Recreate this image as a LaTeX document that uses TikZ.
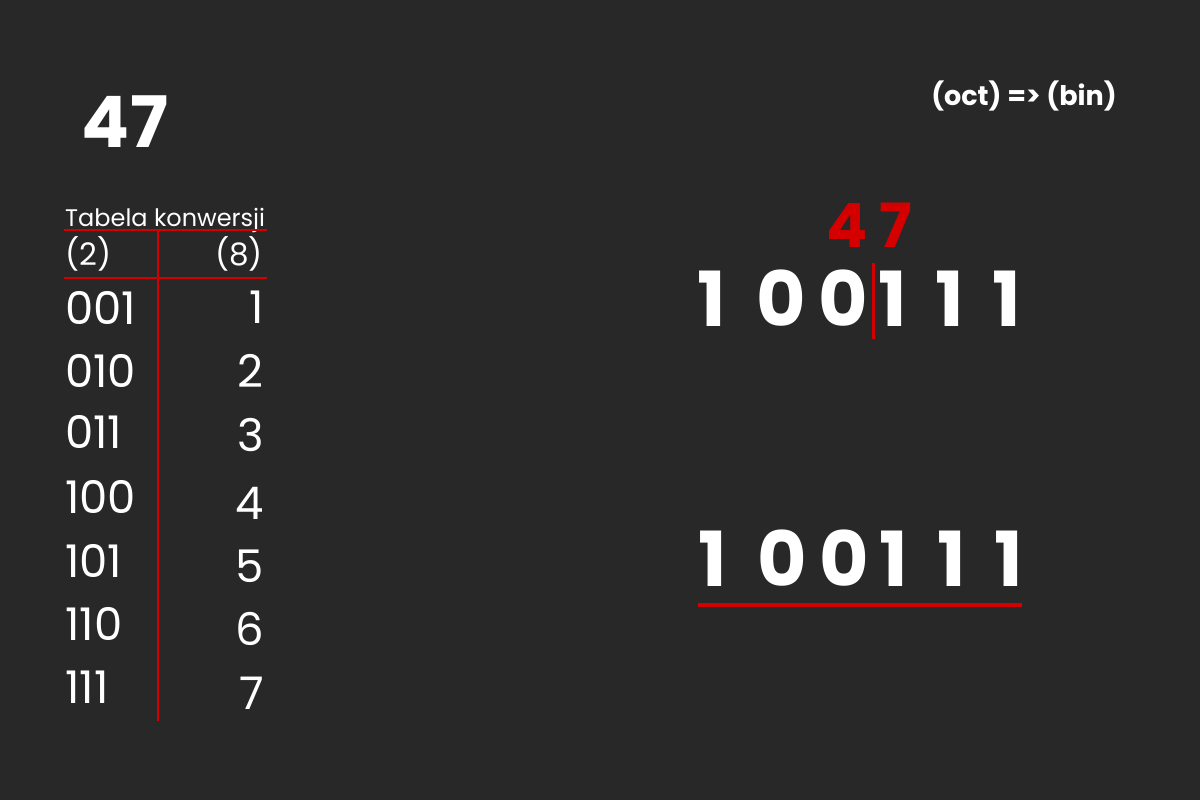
\documentclass[tikz,border=0pt]{standalone}
\usepackage{fontspec}
\setmainfont{Poppins}
\definecolor{bg}{RGB}{40,40,40}
\definecolor{accent}{RGB}{212,0,0}
\tikzset{
  bigb/.style={text=white,inner sep=0pt,font=\fontsize{76}{76}\bfseries\selectfont},
  redb/.style={text=accent,inner sep=0pt,font=\fontsize{61}{61}\bfseries\selectfont},
  tab/.style={text=white,inner sep=0pt,font=\fontsize{45}{45}\selectfont},
  hdr/.style={text=white,inner sep=0pt,font=\fontsize{31}{31}\selectfont},
  rline/.style={draw=accent,line width=2.5pt},
}
\begin{document}
\begin{tikzpicture}[x=1pt,y=-1pt]
\fill[bg] (0,0) rectangle (1200,800);
\useasboundingbox (0,0) rectangle (1200,800);
% title
\node[text=white,inner sep=0pt,anchor=base,font=\fontsize{71}{71}\bfseries\selectfont] (title) at (125,147) {47};
\node[text=white,inner sep=0pt,anchor=base,font=\fontsize{27}{27}\bfseries\selectfont] (conv) at (1024,106) {(oct) => (bin)};
% table
\node[text=white,inner sep=0pt,anchor=base west,font=\fontsize{24}{24}\selectfont] (tabtitle) at (65,226) {Tabela konwersji};
\node[hdr,anchor=base west] (h2) at (65,265) {(2)};
\node[hdr,anchor=base east] (h8) at (263,265) {(8)};
\coordinate (l1a) at (64,230); \coordinate (l1b) at (267,230);
\coordinate (l2a) at (64,278); \coordinate (l2b) at (267,278);
\coordinate (vt) at (158,230); \coordinate (vb) at (158,721);
\draw[rline] (l1a) -- (l1b);
\draw[rline] (l2a) -- (l2b);
\draw[rline] (vt) -- (vb);
\node[tab,anchor=base west] (b1) at (65,324) {001};
\node[tab,anchor=base west] (b2) at (65,387) {010};
\node[tab,anchor=base west] (b3) at (65,448) {011};
\node[tab,anchor=base west] (b4) at (65,513) {100};
\node[tab,anchor=base west] (b5) at (65,577) {101};
\node[tab,anchor=base west] (b6) at (65,640) {110};
\node[tab,anchor=base west] (b7) at (65,703) {111};
\node[tab,anchor=base east] (o1) at (264,323) {1};
\node[tab,anchor=base east] (o2) at (264,387) {2};
\node[tab,anchor=base east] (o3) at (264,451) {3};
\node[tab,anchor=base east] (o4) at (264,519) {4};
\node[tab,anchor=base east] (o5) at (264,582) {5};
\node[tab,anchor=base east] (o6) at (264,645) {6};
\node[tab,anchor=base east] (o7) at (264,709) {7};
% upper binary
\node[redb,anchor=base] (r4) at (847,247) {4};
\node[redb,anchor=base] (r7) at (896,247) {7};
\node[bigb,anchor=base] (u1) at (712,326) {1};
\node[bigb,anchor=base] (u2) at (781,326) {0};
\node[bigb,anchor=base] (u3) at (843,326) {0};
\node[bigb,anchor=base] (u4) at (893,326) {1};
\node[bigb,anchor=base] (u5) at (950,326) {1};
\node[bigb,anchor=base] (u6) at (1007,326) {1};
\coordinate (dt) at (873,263); \coordinate (db) at (873,339);
\draw[draw=accent,line width=3pt] (dt) -- (db);
% lower binary
\node[bigb,anchor=base] (w1) at (713,586) {1};
\node[bigb,anchor=base] (w2) at (782,586) {0};
\node[bigb,anchor=base] (w3) at (844,586) {0};
\node[bigb,anchor=base] (w4) at (894,586) {1};
\node[bigb,anchor=base] (w5) at (952,586) {1};
\node[bigb,anchor=base] (w6) at (1009,586) {1};
\coordinate (ua) at (698,605); \coordinate (ub) at (1022,605);
\draw[draw=accent,line width=4pt] (ua) -- (ub);
\end{tikzpicture}
\end{document}
